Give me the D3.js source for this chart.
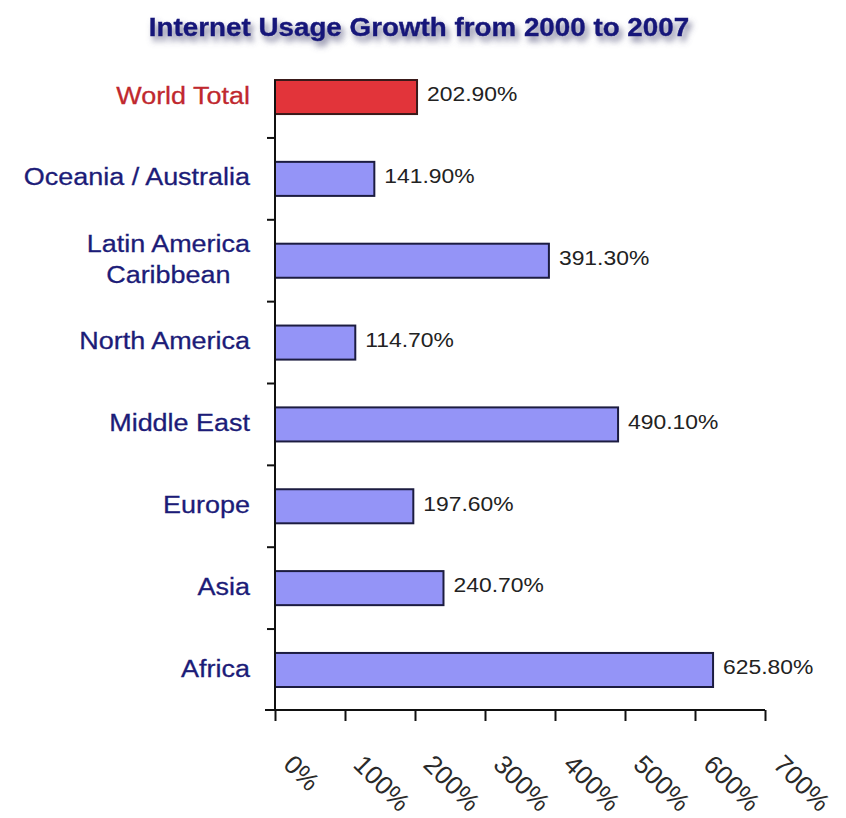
<!DOCTYPE html>
<html>
<head>
<meta charset="utf-8">
<script src="https://cdn.jsdelivr.net/npm/d3@7"></script>
<style>
  html, body { margin: 0; padding: 0; background: #ffffff; }
  svg { display: block; }
</style>
</head>
<body>
<svg id="chart" width="846" height="818"></svg>
<script>
const title = "Internet Usage Growth from 2000 to 2007";
const categories = ["World Total", "Oceania / Australia", "Latin America\nCaribbean", "North America", "Middle East", "Europe", "Asia", "Africa"];
const values = [202.9, 141.9, 391.3, 114.7, 490.1, 197.6, 240.7, 625.8];
const highlight = ["World Total"];
const tickValues = [0, 100, 200, 300, 400, 500, 600, 700];
const tickLabels = ["0%", "100%", "200%", "300%", "400%", "500%", "600%", "700%"];

const svg = d3.select("#chart");
const stretch = 1.09;
const font = "Liberation Sans, Arial, Helvetica, sans-serif";

const defs = svg.append("defs");
const f = defs.append("filter").attr("id", "shadow").attr("x", "-10%").attr("y", "-50%").attr("width", "120%").attr("height", "220%");
f.append("feDropShadow").attr("dx", 3).attr("dy", 5).attr("stdDeviation", 3)
  .attr("flood-color", "#5a5a80").attr("flood-opacity", 0.8);

// Title
svg.append("g").attr("transform", `translate(419,36) scale(${stretch},1)`)
  .append("text")
  .attr("text-anchor", "middle")
  .attr("font-family", font).attr("font-weight", "bold").attr("font-size", 25.5)
  .attr("fill", "#16167a").attr("stroke", "#16167a").attr("stroke-width", 0.4)
  .attr("filter", "url(#shadow)")
  .text(title);

const x = d3.scaleLinear().domain([0, 700]).range([275, 765]);
const y = d3.scaleBand().domain(categories).range([80, 687]).paddingInner(0.584).paddingOuter(0);
const bw = y.bandwidth();
const step = y.step();

// Bars
svg.append("g").selectAll("rect").data(categories).join("rect")
  .attr("x", x(0))
  .attr("y", d => y(d))
  .attr("width", (d, i) => x(values[i]) - x(0))
  .attr("height", bw)
  .attr("fill", d => highlight.includes(d) ? "#e2343a" : "#9494f7")
  .attr("stroke", d => highlight.includes(d) ? "#3a1a1a" : "#1c1c40")
  .attr("stroke-width", 2);

// Value labels
svg.append("g").selectAll("g").data(categories).join("g")
  .attr("transform", (d, i) => `translate(${x(values[i]) + 10},${y(d) + bw / 2 - 3}) scale(${stretch},1)`)
  .append("text")
  .attr("dy", "0.35em")
  .attr("font-family", font).attr("font-size", 21)
  .attr("fill", "#222")
  .text((d, i) => values[i].toFixed(2) + "%");

// Category labels
const labFs = 24.5;
const labG = svg.append("g").selectAll("g").data(categories).join("g")
  .attr("transform", d => `translate(250,${y(d) + bw / 2 - 2}) scale(1.1,1)`);
labG.each(function(d) {
  const g = d3.select(this);
  const lines = d.split("\n");
  const color = highlight.includes(d) ? "#c0282e" : "#1c1c78";
  const lh = 31;
  const t = g.append("text")
    .attr("font-family", font).attr("font-size", labFs)
    .attr("fill", color).attr("stroke", color).attr("stroke-width", 0.3);
  if (lines.length === 1) {
    t.attr("text-anchor", "end").attr("dy", "0.35em").text(lines[0]);
  } else {
    const tmp = g.append("text").attr("font-family", font).attr("font-size", labFs).text(lines[0]);
    const w = tmp.node().getComputedTextLength();
    tmp.remove();
    t.attr("text-anchor", "middle");
    lines.forEach((ln, k) => {
      t.append("tspan").attr("x", -w / 2)
        .attr("y", (k - (lines.length - 1) / 2) * lh)
        .attr("dy", "0.35em").text(ln);
    });
  }
});

// Y axis line and separator ticks
const axisG = svg.append("g").attr("stroke", "#111").attr("stroke-width", 2);
axisG.append("line").attr("x1", x(0)).attr("x2", x(0)).attr("y1", y(categories[0])).attr("y2", 710);
axisG.selectAll("line.sep").data(categories.slice(1)).join("line").attr("class", "sep")
  .attr("x1", x(0) - 8).attr("x2", x(0))
  .attr("y1", d => y(d) - (step - bw) / 2).attr("y2", d => y(d) - (step - bw) / 2);

// X axis
const xAxis = d3.axisBottom(x).tickValues(tickValues).tickSize(11).tickSizeOuter(0).tickFormat("");
const xg = svg.append("g").attr("transform", "translate(0,710)").call(xAxis);
xg.select(".domain").attr("stroke", "#111").attr("stroke-width", 2).attr("d", `M${x(0) - 10},0H${x(700)}`);
xg.selectAll(".tick line").attr("stroke", "#111").attr("stroke-width", 2);

// X tick labels, rotated
svg.append("g").selectAll("text").data(tickValues).join("text")
  .attr("transform", d => `translate(${x(d) + 7},766) rotate(45)`)
  .attr("font-family", font).attr("font-size", 26)
  .attr("fill", "#2a2a2a")
  .text((d, i) => tickLabels[i]);
</script>
</body>
</html>
